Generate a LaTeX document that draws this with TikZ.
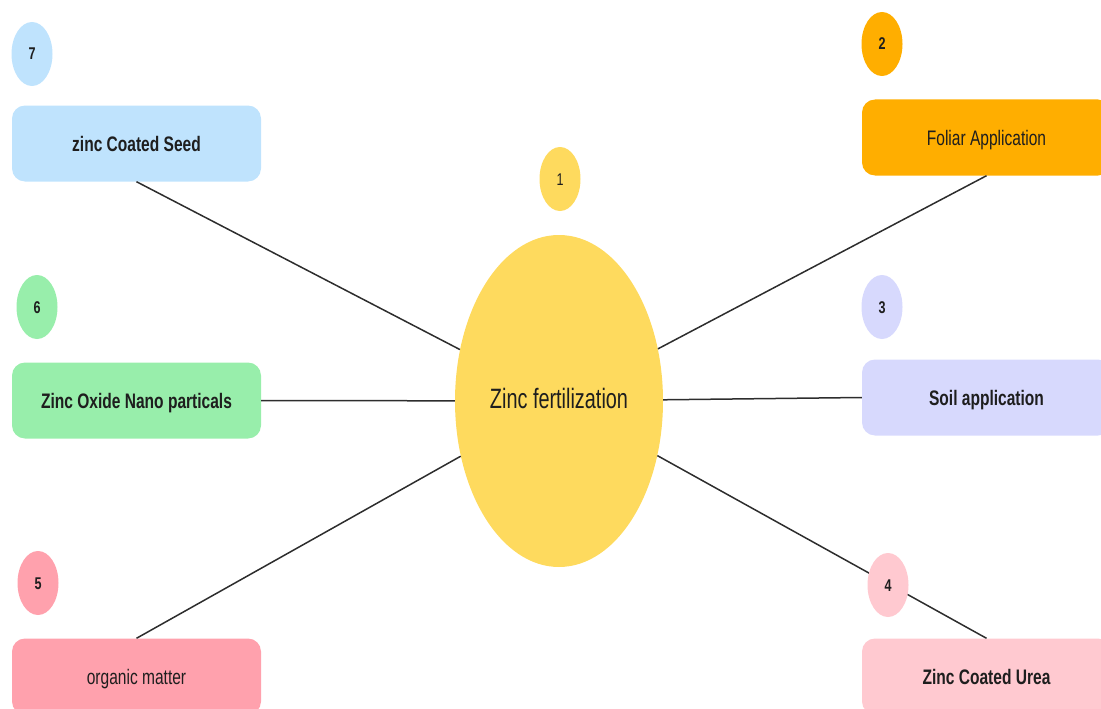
\documentclass[tikz,border=0pt]{standalone}
\usepackage{fontspec}
\newfontfamily\cond{Liberation Sans}[FakeStretch=0.74]
\newfontfamily\condmain{Liberation Sans}[FakeStretch=0.71]
\usetikzlibrary{shapes.geometric}
\definecolor{cblue}{RGB}{191,227,253}
\definecolor{corange}{RGB}{255,174,0}
\definecolor{cyellow}{RGB}{254,218,94}
\definecolor{clav}{RGB}{215,217,253}
\definecolor{clpink}{RGB}{255,201,208}
\definecolor{cpink}{RGB}{255,161,173}
\definecolor{cgreen}{RGB}{152,238,171}
\definecolor{ctext}{RGB}{30,30,30}
\definecolor{cline}{RGB}{45,45,45}
\tikzset{
  boxnode/.style={rectangle, rounded corners=13pt, minimum width=249pt, minimum height=76pt, inner sep=0pt, text height=15pt, text depth=0pt, text=ctext, font=\cond\fontsize{21}{24}\selectfont},
  boldlabel/.style={font=\cond\bfseries\fontsize{21}{24}\selectfont},
  numnode/.style={ellipse, minimum width=41pt, minimum height=64pt, inner sep=0pt, text height=12pt, text depth=0pt, text=ctext, font=\cond\bfseries\fontsize{17}{20}\selectfont},
  link/.style={draw=cline, line width=1.5pt},
}
\begin{document}
\begin{tikzpicture}[x=1pt,y=-1pt]
\useasboundingbox (0,0) rectangle (1101,709);
\clip (0,0) rectangle (1101,709);
% central node
\node[ellipse, fill=cyellow, minimum width=208pt, minimum height=332pt, inner sep=0pt, text height=20pt, text depth=0pt, text=ctext, font=\condmain\fontsize{28}{32}\selectfont] (c) at (559,401) {};
\node[text=ctext, inner sep=0pt, text height=20pt, text depth=0pt, font=\condmain\fontsize{28}{32}\selectfont] (ct) at (559,398) {Zinc fertilization};
% boxes
\node[boxnode, fill=cblue, boldlabel] (b7) at (136.5,143.5) {zinc Coated Seed};
\node[boxnode, fill=cgreen, boldlabel] (b6) at (136.5,400.5) {Zinc Oxide Nano particals};
\node[boxnode, fill=cpink] (b5) at (136.5,676.5) {organic matter};
\node[boxnode, fill=corange] (b2) at (986.5,137.5) {Foliar Application};
\node[boxnode, fill=clav, boldlabel] (b3) at (986.5,397.5) {Soil application};
\node[boxnode, fill=clpink, boldlabel] (b4) at (986.5,676.5) {Zinc Coated Urea};
% connectors
\draw[link] (b7.south) -- (c);
\draw[link] (b6.east) -- (c);
\draw[link] (b5.north) -- (c);
\draw[link] (c) -- (b2.south);
\draw[link] (c) -- (b3.west);
\draw[link] (c) -- (b4.north);
% number ellipses
\node[numnode, fill=cyellow, font=\cond\fontsize{17}{20}\selectfont] (n1) at (560,179) {1};
\node[numnode, fill=corange] (n2) at (882,44) {2};
\node[numnode, fill=clav] (n3) at (882,307) {3};
\node[numnode, fill=clpink] (n4) at (888,585) {4};
\node[numnode, fill=cpink] (n5) at (38,583) {5};
\node[numnode, fill=cgreen] (n6) at (37,307) {6};
\node[numnode, fill=cblue] (n7) at (32,54) {7};
\end{tikzpicture}
\end{document}
